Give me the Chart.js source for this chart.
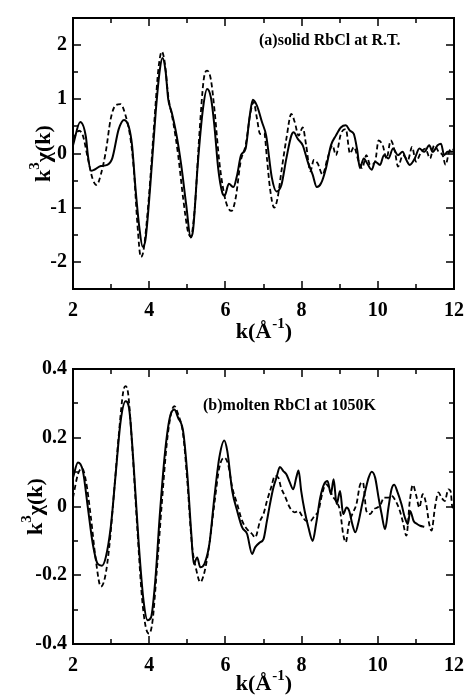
<!DOCTYPE html>
<html>
<head>
<meta charset="utf-8">
<script src="https://cdn.jsdelivr.net/npm/chart.js@4/dist/chart.umd.min.js"></script>
<style>
  body { margin: 0; background: #fff; }
  canvas { position: absolute; left: 0; }
  #chartA { top: 0; }
  #chartB { top: 350px; }
</style>
</head>
<body>
<canvas id="chartA" width="474" height="350"></canvas>
<canvas id="chartB" width="474" height="349"></canvas>
<script>
// k axis
const kTicks = [2, 4, 6, 8, 10, 12];
const kLabels = ['2', '4', '6', '8', '10', '12'];
const kMinor = [3, 5, 7, 9, 11];

// panel (a) y axis
const aTicks = [-2, -1, 0, 1, 2];
const aLabels = ['-2', '-1', '0', '1', '2'];
const aMinor = [-1.5, -0.5, 0.5, 1.5];

// panel (b) y axis
const bTicks = [-0.4, -0.2, 0, 0.2, 0.4];
const bLabels = ['-0.4', '-0.2', '0', '0.2', '0.4'];
const bMinor = [-0.3, -0.1, 0.1, 0.3];

// (a) solid RbCl at R.T. - solid line
const aSolidK = [2.00, 2.19, 2.34, 2.39, 2.47, 2.56, 2.73, 2.90, 3.03, 3.20, 3.34, 3.47, 3.55, 3.64, 3.74, 3.83, 3.90,
  4.03, 4.17, 4.28, 4.35, 4.43, 4.50, 4.59, 4.72, 4.84, 4.97, 5.09, 5.15, 5.28, 5.41, 5.52, 5.62, 5.71, 5.81, 5.92,
  5.98, 6.09, 6.21, 6.31, 6.41, 6.53, 6.64, 6.72, 6.83, 6.96, 7.07, 7.22, 7.34, 7.47, 7.60, 7.73, 7.79, 7.90, 8.03,
  8.16, 8.29, 8.40, 8.51, 8.64, 8.77, 8.90, 9.03, 9.16, 9.27, 9.37, 9.46, 9.53, 9.63, 9.72, 9.84, 9.93, 10.06, 10.16,
  10.28, 10.40, 10.53, 10.65, 10.75, 10.84, 10.97, 11.09, 11.22, 11.35, 11.44, 11.57, 11.66, 11.74, 11.83, 11.96, 12.00];
const aSolidV = [0.15, 0.58, 0.30, -0.03, -0.32, -0.30, -0.23, -0.21, -0.09, 0.45, 0.62, 0.48, 0.15, -0.64, -1.36, -1.72, -1.60,
  -0.58, 0.76, 1.55, 1.76, 1.52, 1.00, 0.76, 0.33, -0.21, -0.94, -1.55, -1.42, -0.15, 0.82, 1.19, 1.03, 0.52, -0.27, -0.73,
  -0.78, -0.56, -0.62, -0.39, -0.03, 0.09, 0.70, 0.99, 0.88, 0.58, 0.33, -0.45, -0.70, -0.58, -0.09, 0.33, 0.39, 0.27, 0.15,
  -0.15, -0.39, -0.62, -0.55, -0.27, 0.15, 0.33, 0.48, 0.52, 0.42, 0.36, 0.06, -0.27, -0.09, -0.18, -0.30, -0.15, -0.21, -0.03,
  -0.09, 0.09, -0.03, 0.03, -0.12, -0.21, -0.09, 0.09, 0.03, 0.15, 0.03, 0.15, 0.18, -0.03, 0.03, 0.03, 0.05];

// (a) dashed line
const aDashK = [2.00, 2.16, 2.26, 2.39, 2.52, 2.62, 2.73, 2.86, 2.99, 3.12, 3.25, 3.38, 3.51, 3.60, 3.69, 3.78, 3.85,
  3.99, 4.14, 4.24, 4.33, 4.41, 4.50, 4.63, 4.76, 4.89, 5.02, 5.09, 5.19, 5.32, 5.43, 5.52, 5.62, 5.72, 5.84, 5.97,
  6.05, 6.16, 6.27, 6.40, 6.53, 6.66, 6.74, 6.83, 6.91, 7.02, 7.09, 7.17, 7.28, 7.37, 7.47, 7.60, 7.73, 7.82, 7.92,
  8.03, 8.12, 8.23, 8.32, 8.42, 8.55, 8.68, 8.81, 8.90, 9.03, 9.16, 9.27, 9.37, 9.50, 9.59, 9.70, 9.80, 9.93, 10.02,
  10.13, 10.23, 10.34, 10.45, 10.53, 10.66, 10.79, 10.90, 11.00, 11.14, 11.25, 11.37, 11.48, 11.60, 11.70, 11.78, 11.87, 11.96, 12.00];
const aDashV = [0.27, 0.42, 0.33, -0.09, -0.48, -0.58, -0.39, 0.03, 0.64, 0.89, 0.91, 0.70, 0.27, -0.33, -1.30, -1.91, -1.79,
  -0.82, 0.64, 1.55, 1.88, 1.67, 1.06, 0.58, -0.03, -0.82, -1.45, -1.53, -1.06, 0.39, 1.36, 1.53, 1.36, 0.76, -0.15, -0.76,
  -0.97, -1.06, -0.82, -0.15, 0.15, 0.76, 0.95, 0.64, 0.36, 0.37, -0.09, -0.64, -1.00, -0.82, -0.33, 0.27, 0.73, 0.58, 0.33,
  0.48, 0.15, -0.33, -0.12, -0.18, -0.39, -0.09, 0.15, -0.03, 0.36, 0.45, 0.00, 0.12, -0.15, -0.27, -0.03, -0.21, -0.15, 0.24,
  0.15, -0.09, 0.24, 0.03, -0.24, -0.03, -0.12, 0.12, -0.15, 0.03, 0.09, -0.09, 0.15, 0.03, -0.03, -0.21, 0.03, 0.09, 0.05];

// (b) molten RbCl at 1050K - solid line
const bSolidK = [2.00, 2.13, 2.26, 2.39, 2.52, 2.65, 2.76, 2.86, 2.99, 3.12, 3.25, 3.38, 3.47, 3.59, 3.72, 3.85, 3.96,
  4.05, 4.16, 4.28, 4.41, 4.54, 4.66, 4.76, 4.89, 5.00, 5.10, 5.17, 5.26, 5.34, 5.45, 5.58, 5.71, 5.84, 5.97, 6.05,
  6.18, 6.31, 6.44, 6.57, 6.70, 6.78, 6.91, 7.00, 7.09, 7.17, 7.26, 7.34, 7.43, 7.52, 7.60, 7.69, 7.78, 7.86, 7.92,
  7.99, 8.08, 8.18, 8.29, 8.38, 8.49, 8.59, 8.68, 8.77, 8.84, 8.92, 9.01, 9.09, 9.18, 9.25, 9.33, 9.41, 9.50, 9.59,
  9.67, 9.76, 9.84, 9.93, 10.02, 10.10, 10.19, 10.28, 10.36, 10.43, 10.52, 10.62, 10.71, 10.79, 10.85, 10.94, 11.03, 11.11, 11.22];
const bSolidV = [0.084, 0.128, 0.103, -0.003, -0.109, -0.167, -0.172, -0.148, -0.061, 0.094, 0.248, 0.306, 0.287, 0.123, -0.100, -0.273, -0.331,
  -0.322, -0.215, -0.022, 0.152, 0.258, 0.282, 0.258, 0.219, 0.094, -0.071, -0.167, -0.148, -0.177, -0.167, -0.109, 0.026, 0.142, 0.192, 0.161,
  0.045, -0.013, -0.061, -0.080, -0.138, -0.119, -0.104, -0.095, -0.042, 0.007, 0.055, 0.084, 0.115, 0.103, 0.094, 0.070, 0.050, 0.084, 0.105,
  0.045, -0.013, -0.061, -0.100, -0.051, 0.026, 0.065, 0.074, 0.036, 0.079, 0.007, 0.045, -0.022, -0.003, -0.013, -0.051, -0.075, -0.042, 0.007,
  0.045, 0.084, 0.101, 0.084, 0.026, -0.022, -0.066, -0.003, 0.050, 0.063, 0.041, 0.007, -0.032, -0.051, -0.013, -0.042, -0.051, -0.056, -0.059];

// (b) dashed line
const bDashK = [2.00, 2.13, 2.24, 2.34, 2.47, 2.60, 2.73, 2.84, 2.95, 3.08, 3.21, 3.32, 3.38, 3.45, 3.55, 3.68, 3.81,
  3.91, 4.00, 4.09, 4.20, 4.33, 4.46, 4.57, 4.66, 4.76, 4.89, 5.00, 5.12, 5.24, 5.34, 5.45, 5.58, 5.71, 5.84, 5.97,
  6.07, 6.18, 6.31, 6.44, 6.57, 6.70, 6.78, 6.91, 7.00, 7.09, 7.20, 7.30, 7.39, 7.46, 7.56, 7.69, 7.82, 7.92, 8.01,
  8.12, 8.23, 8.34, 8.44, 8.55, 8.64, 8.72, 8.81, 8.90, 9.01, 9.09, 9.16, 9.24, 9.33, 9.44, 9.54, 9.61, 9.70, 9.80,
  9.89, 9.99, 10.08, 10.16, 10.28, 10.36, 10.47, 10.58, 10.66, 10.75, 10.84, 10.92, 11.01, 11.09, 11.18, 11.27, 11.35,
  11.41, 11.50, 11.59, 11.67, 11.76, 11.85, 11.91, 11.96, 12.00];
const bDashV = [0.026, 0.094, 0.111, 0.074, -0.032, -0.157, -0.233, -0.206, -0.119, 0.045, 0.219, 0.335, 0.350, 0.326, 0.181, -0.051, -0.264,
  -0.351, -0.370, -0.331, -0.186, 0.007, 0.181, 0.268, 0.292, 0.268, 0.210, 0.074, -0.109, -0.186, -0.220, -0.191, -0.109, 0.007, 0.113, 0.142,
  0.123, 0.055, 0.007, -0.042, -0.066, -0.080, -0.090, -0.042, -0.022, 0.016, 0.055, 0.089, 0.084, 0.055, 0.031, -0.003, -0.017, -0.013, -0.027,
  -0.042, -0.042, -0.027, -0.013, 0.041, 0.065, 0.055, 0.031, 0.016, -0.013, -0.080, -0.104, -0.051, -0.022, 0.007, 0.065, 0.070, -0.013, -0.022,
  -0.008, -0.003, 0.007, 0.026, 0.026, 0.031, 0.016, -0.013, -0.046, -0.085, 0.016, 0.063, 0.031, -0.003, 0.036, 0.007, -0.051,
  -0.070, -0.003, 0.041, 0.026, 0.016, 0.050, 0.045, -0.003, 0.010];

const SERIF = '"Liberation Serif", "Times New Roman", serif';

function pts(ks, vs) {
  return ks.map((k, i) => ({ x: k, y: vs[i] }));
}

// frame, inward ticks and titles
const framePlugin = {
  id: 'frame',
  afterDraw(chart, args, o) {
    const { ctx, chartArea: a, scales: { x, y } } = chart;
    ctx.save();
    ctx.strokeStyle = '#000';
    ctx.lineWidth = 1.5;
    ctx.beginPath();
    const xt = (vals, len) => vals.forEach(v => {
      const px = Math.round(x.getPixelForValue(v));
      ctx.moveTo(px, a.bottom); ctx.lineTo(px, a.bottom - len);
      ctx.moveTo(px, a.top); ctx.lineTo(px, a.top + len);
    });
    const yt = (vals, len) => vals.forEach(v => {
      const py = Math.round(y.getPixelForValue(v));
      ctx.moveTo(a.left, py); ctx.lineTo(a.left + len, py);
      ctx.moveTo(a.right, py); ctx.lineTo(a.right - len, py);
    });
    xt(kTicks, 8); xt(kMinor, 5);
    yt(o.yTicks, 8); yt(o.yMinor, 5);
    ctx.stroke();
    ctx.lineWidth = 2;
    ctx.strokeRect(a.left, a.top, a.right - a.left, a.bottom - a.top);

    ctx.fillStyle = '#000';
    ctx.textBaseline = 'alphabetic';
    ctx.textAlign = 'left';

    // panel label
    ctx.font = 'bold 16px ' + SERIF;
    ctx.fillText(o.label, o.labelX, o.labelY);

    // x title: k(Å^-1)
    const big = 'bold 22px ' + SERIF, sup = 'bold 15px ' + SERIF;
    ctx.font = big; const w1 = ctx.measureText('k(Å').width;
    ctx.font = sup; const w2 = ctx.measureText('-1').width;
    ctx.font = big; const w3 = ctx.measureText(')').width;
    let sx = (a.left + a.right) / 2 - (w1 + w2 + w3) / 2;
    ctx.fillText('k(Å', sx, o.xTitleY);
    ctx.font = sup; ctx.fillText('-1', sx + w1 + 1, o.xTitleY - 10);
    ctx.font = big; ctx.fillText(')', sx + w1 + w2 + 1, o.xTitleY);

    // y title: k^3 χ(k)
    ctx.translate(o.yTitleX, (a.top + a.bottom) / 2);
    ctx.rotate(-Math.PI / 2);
    ctx.font = big; const u1 = ctx.measureText('k').width;
    ctx.font = sup; const u2 = ctx.measureText('3').width;
    ctx.font = big; const u3 = ctx.measureText('χ(k)').width;
    sx = -(u1 + u2 + u3) / 2;
    ctx.fillText('k', sx, 0);
    ctx.font = sup; ctx.fillText('3', sx + u1, -11);
    ctx.font = big; ctx.fillText('χ(k)', sx + u1 + u2, 0);
    ctx.restore();
  }
};

function makeChart(id, cfg) {
  const tickFont = { family: SERIF, size: 20, weight: 'bold' };
  return new Chart(document.getElementById(id), {
    type: 'line',
    data: {
      datasets: [
        { data: pts(cfg.solidK, cfg.solidV), borderColor: '#000', borderWidth: 2, pointRadius: 0,
          cubicInterpolationMode: 'monotone' },
        { data: pts(cfg.dashK, cfg.dashV), borderColor: '#000', borderWidth: 1.8, borderDash: [5, 3], pointRadius: 0,
          cubicInterpolationMode: 'monotone' }
      ]
    },
    options: {
      responsive: false,
      animation: false,
      events: [],
      layout: { padding: { top: cfg.top, right: 14, left: 0, bottom: 0 } },
      plugins: {
        legend: { display: false },
        tooltip: { enabled: false },
        frame: cfg.frame
      },
      scales: {
        x: {
          type: 'linear', min: 2, max: 12,
          afterBuildTicks: s => { s.ticks = kTicks.map(v => ({ value: v })); },
          afterFit: s => { s.height = cfg.xh; },
          grid: { display: false, drawTicks: false },
          border: { display: false },
          ticks: { font: tickFont, color: '#000', padding: 10, maxRotation: 0,
            callback: v => kLabels[kTicks.indexOf(v)] }
        },
        y: {
          type: 'linear', min: cfg.yMin, max: cfg.yMax,
          afterBuildTicks: s => { s.ticks = cfg.yTicks.map(v => ({ value: v })); },
          afterFit: s => { s.width = 73; },
          grid: { display: false, drawTicks: false },
          border: { display: false },
          ticks: { font: tickFont, color: '#000', padding: 6,
            callback: v => cfg.yLabels[cfg.yTicks.findIndex(t => Math.abs(t - v) < 1e-9)] }
        }
      }
    },
    plugins: [framePlugin]
  });
}

makeChart('chartA', {
  solidK: aSolidK, solidV: aSolidV, dashK: aDashK, dashV: aDashV,
  yMin: -2.5, yMax: 2.5, yTicks: aTicks, yLabels: aLabels,
  top: 14, xh: 61,
  frame: { yTicks: aTicks, yMinor: aMinor, label: '(a)solid RbCl at R.T.', labelX: 259, labelY: 45,
    xTitleY: 338, yTitleX: 50 }
});

makeChart('chartB', {
  solidK: bSolidK, solidV: bSolidV, dashK: bDashK, dashV: bDashV,
  yMin: -0.4, yMax: 0.4, yTicks: bTicks, yLabels: bLabels,
  top: 19, xh: 55,
  frame: { yTicks: bTicks, yMinor: bMinor, label: '(b)molten RbCl at 1050K', labelX: 203, labelY: 60,
    xTitleY: 340, yTitleX: 42 }
});
</script>
</body>
</html>
